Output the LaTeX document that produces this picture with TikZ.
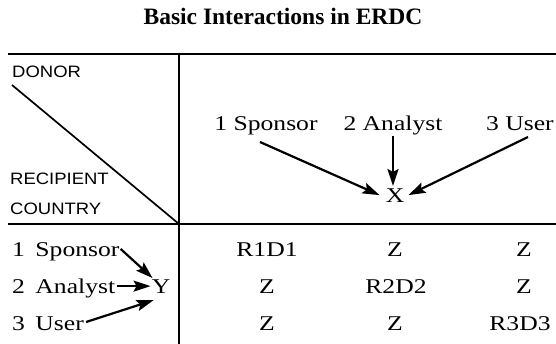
\documentclass[tikz,border=0pt]{standalone}
\usepackage{fontspec}
\setmainfont{Liberation Serif}
\newfontfamily\bodyfont[FakeStretch=1.22]{Liberation Serif}
\newfontfamily\labfont[FakeStretch=1.12]{Liberation Sans}
\usetikzlibrary{arrows.meta,calc}
\begin{document}
\begin{tikzpicture}[x=1pt,y=-1pt,
  body/.style={font=\bodyfont\fontsize{21}{25}\selectfont, inner sep=0pt, anchor=base},
  lab/.style={font=\labfont\fontsize{16.5}{19}\selectfont, inner sep=0pt, anchor=base west},
  rule/.style={line width=1.8pt},
  arr/.style={line width=2.2pt, -{Stealth[length=17pt,width=11pt,inset=3pt]}},
]
\useasboundingbox (0,0) rectangle (556,344);
% title
\node[font=\fontsize{23.5}{28}\selectfont\bfseries, anchor=base, inner sep=0pt] (title) at (283,25) {Basic Interactions in ERDC};
% frame
\coordinate (tl) at (8,54);
\coordinate (tr) at (556,54);
\coordinate (vt) at (179,54);
\coordinate (vb) at (179,344);
\coordinate (ml) at (8,224);
\coordinate (mr) at (556,224);
\coordinate (corner) at (179,224);
\coordinate (dstart) at (12,85);
\draw[rule] (tl) -- (tr);
\draw[rule] (ml) -- (mr);
\draw[line width=2.2pt] (vt) -- (vb);
\draw[line width=1.7pt] (dstart) -- (corner);
% corner labels
\node[lab] (donor) at (12,78) {DONOR};
\node[lab] (recip) at (10,185) {RECIPIENT};
\node[lab] (country) at (10,215) {COUNTRY};
% header
\node[body] (hs) at (266,131) {1 Sponsor};
\node[body] (ha) at (393,131) {2 Analyst};
\node[body] (hu) at (520,131) {3 User};
\node[body, inner sep=1pt] (X) at (395,203) {X};
\draw[arr] ($(hs.base)+(-6,11)$) -- ($(X.west)+(-5,-1)$);
\draw[arr] (ha.south) -- ($(ha.south |- X.north)+(0,-2)$);
\draw[arr] ($(hu.base)+(8,6)$) -- ($(X.east)+(3,-1)$);
% row labels
\node[body, anchor=base west] (rs1) at (12,257) {1\hspace{0.5em}Sponsor};
\node[body, anchor=base west] (rs2) at (12,293) {2\hspace{0.5em}Analyst};
\node[body, anchor=base west] (rs3) at (12,330) {3\hspace{0.5em}User};
\node[body, inner sep=1pt] (Y) at (161,293) {Y};
\draw[arr] ($(rs1.base east)+(1,-8)$) -- ($(Y.north west)+(2,0)$);
\draw[arr, shorten <=2pt] (rs2.east |- Y.west) -- (Y.west);
\draw[arr] ($(rs3.base east)+(2,-8)$) -- ($(Y.south west)+(3,6)$);
% cells
\node[body] (c11) at (267,257) {R1D1};
\node[body] (c12) at (395,257) {Z};
\node[body] (c13) at (524,257) {Z};
\node[body] (c21) at (267,293) {Z};
\node[body] (c22) at (396,293) {R2D2};
\node[body] (c23) at (524,293) {Z};
\node[body] (c31) at (267,330) {Z};
\node[body] (c32) at (395,330) {Z};
\node[body] (c33) at (520,330) {R3D3};
\end{tikzpicture}
\end{document}
